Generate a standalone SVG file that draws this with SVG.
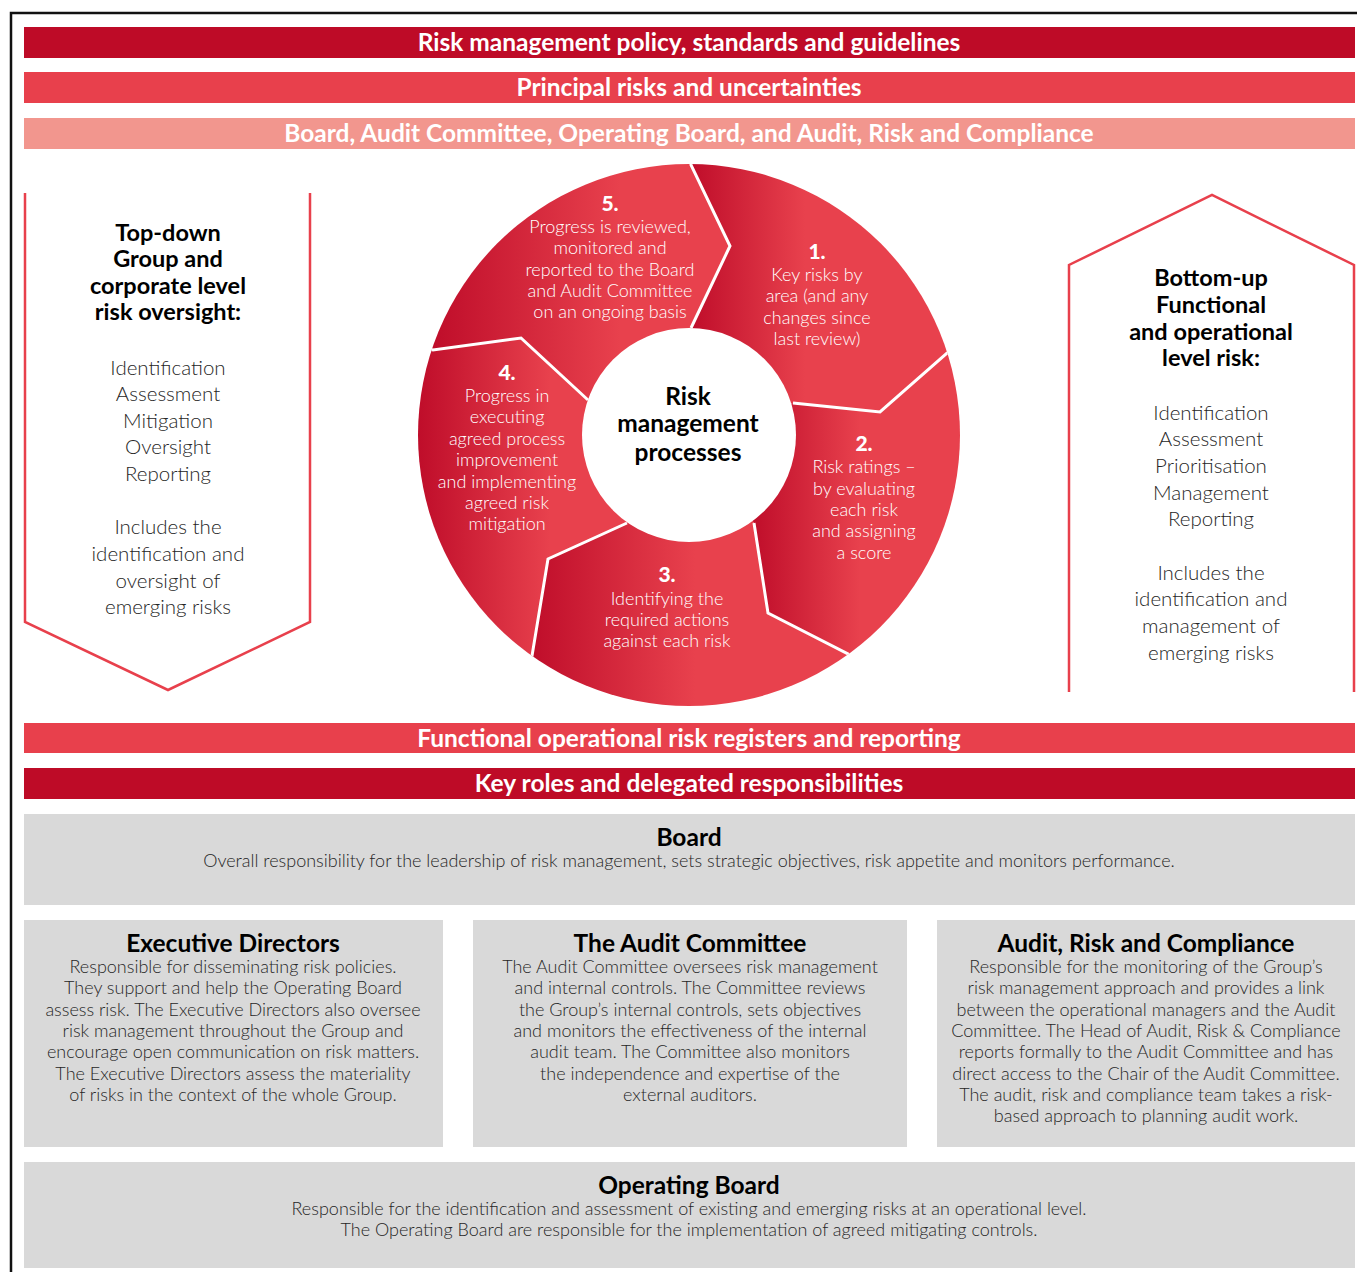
<svg xmlns="http://www.w3.org/2000/svg" width="1357" height="1272" viewBox="0 0 1357 1272">
  <style>
    .bar-t { font-family: Lato, "Liberation Sans", sans-serif; font-weight: 700; font-size: 24.5px; fill: #ffffff; text-anchor: middle; }
    .ttl { font-family: Lato, "Liberation Sans", sans-serif; font-weight: 700; font-size: 24.5px; fill: #000000; text-anchor: middle; }
    .ttl-s { font-family: Lato, "Liberation Sans", sans-serif; font-weight: 700; font-size: 23.5px; fill: #000000; text-anchor: middle; }
    .body { font-family: Lato, "Liberation Sans", sans-serif; font-weight: 300; font-size: 18px; fill: #262626; text-anchor: middle; }
    .list { font-family: Lato, "Liberation Sans", sans-serif; font-weight: 300; font-size: 20.5px; fill: #262626; text-anchor: middle; }
    .seg { font-family: Lato, "Liberation Sans", sans-serif; font-weight: 300; font-size: 18px; fill: #ffffff; text-anchor: middle; }
    .num { font-family: Lato, "Liberation Sans", sans-serif; font-weight: 900; font-size: 21px; fill: #ffffff; text-anchor: middle; }
    .hub { font-family: Lato, "Liberation Sans", sans-serif; font-weight: 700; font-size: 24.5px; fill: #000000; text-anchor: middle; }
    .gray { fill: #d9d9d9; }
    .arrow-outline { fill: none; stroke: #e8404c; stroke-width: 2.5; }
    .divider { fill: none; stroke: #ffffff; stroke-width: 3; stroke-linejoin: miter; }
  </style>
  <defs>
    <linearGradient id="g1" gradientUnits="userSpaceOnUse" x1="690" y1="0" x2="805" y2="0">
      <stop offset="0" stop-color="#bf0d2a"/><stop offset="1" stop-color="#e8414d"/>
    </linearGradient>
    <linearGradient id="g2" gradientUnits="userSpaceOnUse" x1="752" y1="0" x2="860" y2="0">
      <stop offset="0" stop-color="#bf0d2a"/><stop offset="1" stop-color="#e8414d"/>
    </linearGradient>
    <linearGradient id="g3" gradientUnits="userSpaceOnUse" x1="530" y1="0" x2="695" y2="0">
      <stop offset="0" stop-color="#bf0d2a"/><stop offset="1" stop-color="#e8414d"/>
    </linearGradient>
    <linearGradient id="g4" gradientUnits="userSpaceOnUse" x1="418" y1="0" x2="550" y2="0">
      <stop offset="0" stop-color="#bf0d2a"/><stop offset="1" stop-color="#e8414d"/>
    </linearGradient>
    <linearGradient id="g5" gradientUnits="userSpaceOnUse" x1="432" y1="0" x2="620" y2="0">
      <stop offset="0" stop-color="#bf0d2a"/><stop offset="1" stop-color="#e8414d"/>
    </linearGradient>
    <clipPath id="wheel">
      <circle cx="689" cy="435" r="271"/>
    </clipPath>
  </defs>

  <rect width="1357" height="1272" fill="#ffffff"/>

  <!-- outer frame -->
  <path d="M11,1272 V13 H1357" fill="none" stroke="#111111" stroke-width="2.5"/>

  <!-- framework bands -->
  <g id="band-policy">
    <rect x="24" y="27" width="1331" height="31" fill="#be0b27"/>
    <text class="bar-t" x="689" y="51">Risk management policy, standards and guidelines</text>
  </g>
  <g id="band-principal">
    <rect x="24" y="72" width="1331" height="31" fill="#e8404c"/>
    <text class="bar-t" x="689" y="96">Principal risks and uncertainties</text>
  </g>
  <g id="band-board">
    <rect x="24" y="118" width="1331" height="31" fill="#f2968e"/>
    <text class="bar-t" x="689" y="142">Board, Audit Committee, Operating Board, and Audit, Risk and Compliance</text>
  </g>

  <!-- top-down arrow -->
  <g id="top-down">
    <polyline class="arrow-outline" points="25,193 25,622 168,690 310,622 310,193"/>
    <text class="ttl-s" x="168" y="241">Top-down</text>
    <text class="ttl-s" x="168" y="267">Group and</text>
    <text class="ttl-s" x="168" y="294">corporate level</text>
    <text class="ttl-s" x="168" y="320">risk oversight:</text>
    <text class="list" x="168" y="375">Identification</text>
    <text class="list" x="168" y="401">Assessment</text>
    <text class="list" x="168" y="428">Mitigation</text>
    <text class="list" x="168" y="454">Oversight</text>
    <text class="list" x="168" y="481">Reporting</text>
    <text class="list" x="168" y="534">Includes the</text>
    <text class="list" x="168" y="561">identification and</text>
    <text class="list" x="168" y="588">oversight of</text>
    <text class="list" x="168" y="614">emerging risks</text>
  </g>

  <!-- bottom-up arrow -->
  <g id="bottom-up">
    <polyline class="arrow-outline" points="1069,692 1069,265 1212,195 1354,265 1354,692"/>
    <text class="ttl-s" x="1211" y="286">Bottom-up</text>
    <text class="ttl-s" x="1211" y="313">Functional</text>
    <text class="ttl-s" x="1211" y="340">and operational</text>
    <text class="ttl-s" x="1211" y="366">level risk:</text>
    <text class="list" x="1211" y="420">Identification</text>
    <text class="list" x="1211" y="446">Assessment</text>
    <text class="list" x="1211" y="473">Prioritisation</text>
    <text class="list" x="1211" y="500">Management</text>
    <text class="list" x="1211" y="526">Reporting</text>
    <text class="list" x="1211" y="580">Includes the</text>
    <text class="list" x="1211" y="606">identification and</text>
    <text class="list" x="1211" y="633">management of</text>
    <text class="list" x="1211" y="660">emerging risks</text>
  </g>

  <!-- process wheel -->
  <g clip-path="url(#wheel)">
    <g id="step-1">
      <polygon fill="url(#g1)" points="689,435 691,328 730,246 691,165 692,105 960,76 1003,335 947,353 880,412 793,403"/>
    </g>
    <g id="step-2">
      <polygon fill="url(#g2)" points="689,435 793,403 880,412 947,353 1003,335 1117,574 883,702 848,654 768,613 754,523"/>
    </g>
    <g id="step-3">
      <polygon fill="url(#g3)" points="689,435 754,523 768,613 848,654 883,702 689,885 498,704 532,656 548,559 627,523"/>
    </g>
    <g id="step-4">
      <polygon fill="url(#g4)" points="689,435 627,523 548,559 532,656 498,704 261,574 376,331 433,350 521,338 588,400"/>
    </g>
    <g id="step-5">
      <polygon fill="url(#g5)" points="689,435 588,400 521,338 433,350 376,331 424,71 692,105 691,165 730,246 691,328"/>
    </g>
    <g id="connectors">
      <polyline class="divider" points="691,328 730,246 691,165 692,105"/>
      <polyline class="divider" points="793,403 880,412 947,353 1003,335"/>
      <polyline class="divider" points="754,523 768,613 848,654 883,702"/>
      <polyline class="divider" points="627,523 548,559 532,656 498,704"/>
      <polyline class="divider" points="588,400 521,338 433,350 376,331"/>
    </g>
  </g>

  <g id="hub">
    <circle cx="689" cy="435" r="107" fill="#ffffff"/>
    <text class="hub" x="688" y="405">Risk</text>
    <text class="hub" x="688" y="432">management</text>
    <text class="hub" x="688" y="461">processes</text>
  </g>

  <g id="step-labels">
    <text class="num" x="610" y="211">5.</text>
    <text class="seg" x="610" y="233">Progress is reviewed,</text>
    <text class="seg" x="610" y="254">monitored and</text>
    <text class="seg" x="610" y="276">reported to the Board</text>
    <text class="seg" x="610" y="297">and Audit Committee</text>
    <text class="seg" x="610" y="318">on an ongoing basis</text>

    <text class="num" x="817" y="259">1.</text>
    <text class="seg" x="817" y="281">Key risks by</text>
    <text class="seg" x="817" y="302">area (and any</text>
    <text class="seg" x="817" y="324">changes since</text>
    <text class="seg" x="817" y="345">last review)</text>

    <text class="num" x="864" y="451">2.</text>
    <text class="seg" x="864" y="473">Risk ratings –</text>
    <text class="seg" x="864" y="495">by evaluating</text>
    <text class="seg" x="864" y="516">each risk</text>
    <text class="seg" x="864" y="537">and assigning</text>
    <text class="seg" x="864" y="559">a score</text>

    <text class="num" x="667" y="582">3.</text>
    <text class="seg" x="667" y="605">Identifying the</text>
    <text class="seg" x="667" y="626">required actions</text>
    <text class="seg" x="667" y="647">against each risk</text>

    <text class="num" x="507" y="380">4.</text>
    <text class="seg" x="507" y="402">Progress in</text>
    <text class="seg" x="507" y="423">executing</text>
    <text class="seg" x="507" y="445">agreed process</text>
    <text class="seg" x="507" y="466">improvement</text>
    <text class="seg" x="507" y="488">and implementing</text>
    <text class="seg" x="507" y="509">agreed risk</text>
    <text class="seg" x="507" y="530">mitigation</text>
  </g>

  <!-- lower bands -->
  <g id="band-registers">
    <rect x="24" y="723" width="1331" height="30" fill="#e8404c"/>
    <text class="bar-t" x="689" y="747">Functional operational risk registers and reporting</text>
  </g>
  <g id="band-roles">
    <rect x="24" y="768" width="1331" height="31" fill="#be0b27"/>
    <text class="bar-t" x="689" y="792">Key roles and delegated responsibilities</text>
  </g>

  <!-- roles -->
  <g id="role-board">
    <rect class="gray" x="24" y="814" width="1331" height="91"/>
    <text class="ttl" x="689" y="846">Board</text>
    <text class="body" x="689" y="867">Overall responsibility for the leadership of risk management, sets strategic objectives, risk appetite and monitors performance.</text>
  </g>

  <g id="role-executive">
    <rect class="gray" x="24" y="920" width="419" height="227"/>
    <text class="ttl" x="233" y="952">Executive Directors</text>
    <text class="body" x="233" y="973">Responsible for disseminating risk policies.</text>
    <text class="body" x="233" y="994">They support and help the Operating Board</text>
    <text class="body" x="233" y="1016">assess risk. The Executive Directors also oversee</text>
    <text class="body" x="233" y="1037">risk management throughout the Group and</text>
    <text class="body" x="233" y="1058">encourage open communication on risk matters.</text>
    <text class="body" x="233" y="1080">The Executive Directors assess the materiality</text>
    <text class="body" x="233" y="1101">of risks in the context of the whole Group.</text>
  </g>

  <g id="role-audit-committee">
    <rect class="gray" x="473" y="920" width="434" height="227"/>
    <text class="ttl" x="690" y="952">The Audit Committee</text>
    <text class="body" x="690" y="973">The Audit Committee oversees risk management</text>
    <text class="body" x="690" y="994">and internal controls. The Committee reviews</text>
    <text class="body" x="690" y="1016">the Group’s internal controls, sets objectives</text>
    <text class="body" x="690" y="1037">and monitors the effectiveness of the internal</text>
    <text class="body" x="690" y="1058">audit team. The Committee also monitors</text>
    <text class="body" x="690" y="1080">the independence and expertise of the</text>
    <text class="body" x="690" y="1101">external auditors.</text>
  </g>

  <g id="role-arc">
    <rect class="gray" x="937" y="920" width="418" height="227"/>
    <text class="ttl" x="1146" y="952">Audit, Risk and Compliance</text>
    <text class="body" x="1146" y="973">Responsible for the monitoring of the Group’s</text>
    <text class="body" x="1146" y="994">risk management approach and provides a link</text>
    <text class="body" x="1146" y="1016">between the operational managers and the Audit</text>
    <text class="body" x="1146" y="1037">Committee. The Head of Audit, Risk &amp; Compliance</text>
    <text class="body" x="1146" y="1058">reports formally to the Audit Committee and has</text>
    <text class="body" x="1146" y="1080">direct access to the Chair of the Audit Committee.</text>
    <text class="body" x="1146" y="1101">The audit, risk and compliance team takes a risk-</text>
    <text class="body" x="1146" y="1122">based approach to planning audit work.</text>
  </g>

  <g id="role-operating-board">
    <rect class="gray" x="24" y="1162" width="1331" height="106"/>
    <text class="ttl" x="689" y="1194">Operating Board</text>
    <text class="body" x="689" y="1215">Responsible for the identification and assessment of existing and emerging risks at an operational level.</text>
    <text class="body" x="689" y="1236">The Operating Board are responsible for the implementation of agreed mitigating controls.</text>
  </g>
</svg>
